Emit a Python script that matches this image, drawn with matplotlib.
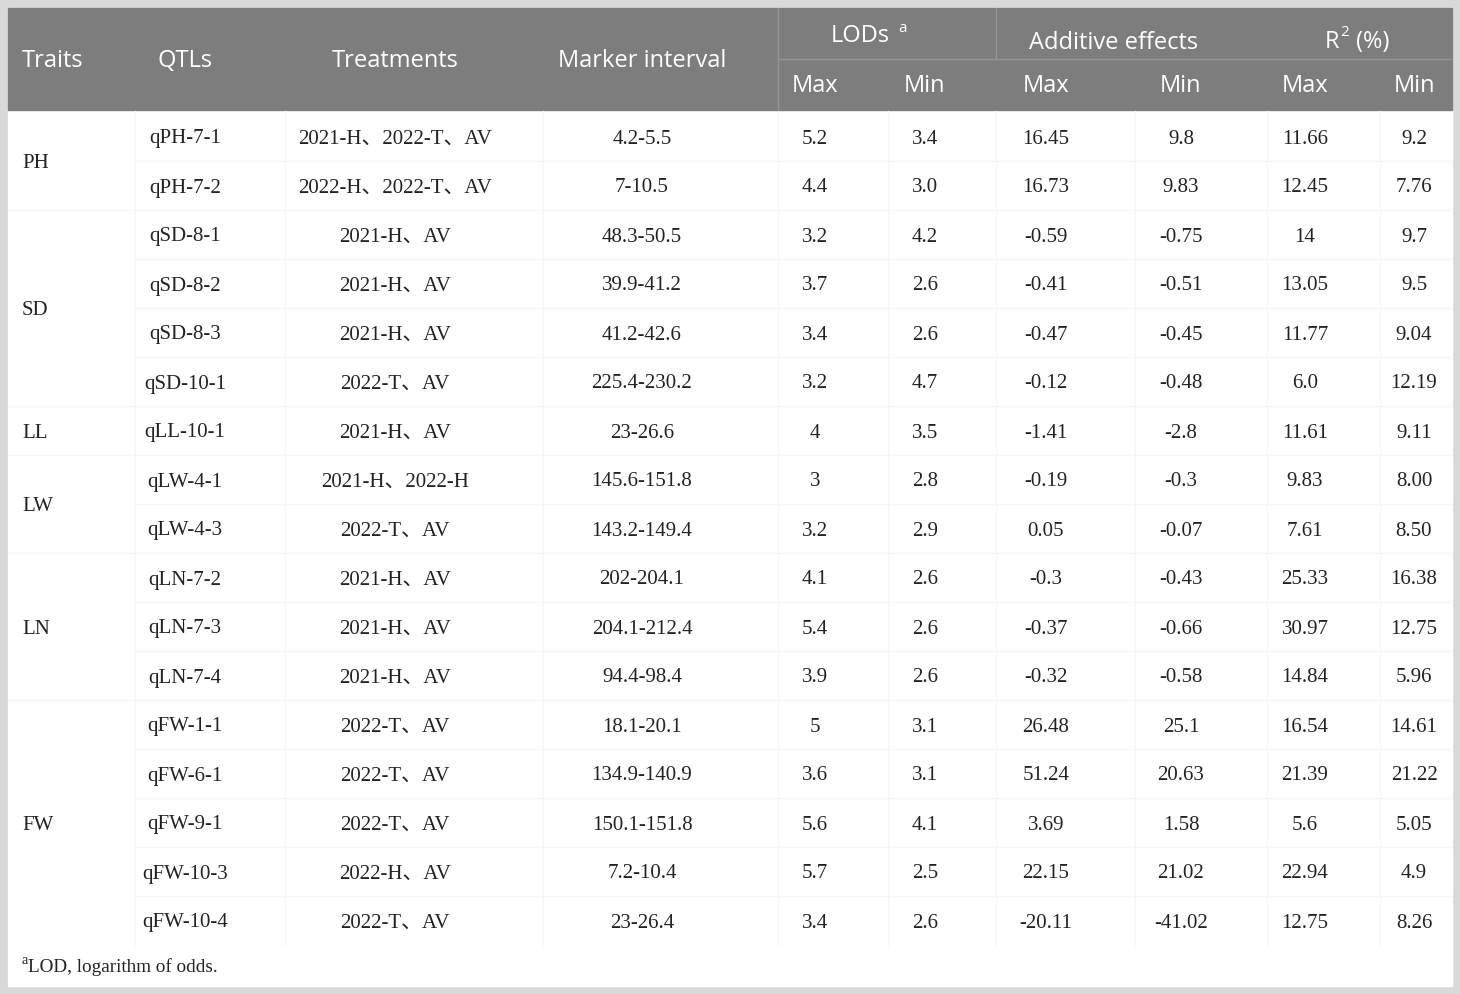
import matplotlib
matplotlib.use("Agg")
import matplotlib.pyplot as plt

# Data
traits = ["PH", "SD", "LL", "LW", "LN", "FW"]
trait_rows = [2, 4, 1, 2, 3, 5]

qtls = ["qPH-7-1", "qPH-7-2", "qSD-8-1", "qSD-8-2", "qSD-8-3", "qSD-10-1",
        "qLL-10-1", "qLW-4-1", "qLW-4-3", "qLN-7-2", "qLN-7-3", "qLN-7-4",
        "qFW-1-1", "qFW-6-1", "qFW-9-1", "qFW-10-3", "qFW-10-4"]
treatments = ["2021-H、2022-T、AV", "2022-H、2022-T、AV", "2021-H、AV", "2021-H、AV",
              "2021-H、AV", "2022-T、AV", "2021-H、AV", "2021-H、2022-H", "2022-T、AV",
              "2021-H、AV", "2021-H、AV", "2021-H、AV", "2022-T、AV", "2022-T、AV",
              "2022-T、AV", "2022-H、AV", "2022-T、AV"]
marker_interval = ["4.2-5.5", "7-10.5", "48.3-50.5", "39.9-41.2", "41.2-42.6", "225.4-230.2",
                   "23-26.6", "145.6-151.8", "143.2-149.4", "202-204.1", "204.1-212.4",
                   "94.4-98.4", "18.1-20.1", "134.9-140.9", "150.1-151.8", "7.2-10.4", "23-26.4"]
lod_max = ["5.2", "4.4", "3.2", "3.7", "3.4", "3.2", "4", "3", "3.2", "4.1", "5.4", "3.9",
           "5", "3.6", "5.6", "5.7", "3.4"]
lod_min = ["3.4", "3.0", "4.2", "2.6", "2.6", "4.7", "3.5", "2.8", "2.9", "2.6", "2.6", "2.6",
           "3.1", "3.1", "4.1", "2.5", "2.6"]
add_max = ["16.45", "16.73", "-0.59", "-0.41", "-0.47", "-0.12", "-1.41", "-0.19", "0.05",
           "-0.3", "-0.37", "-0.32", "26.48", "51.24", "3.69", "22.15", "-20.11"]
add_min = ["9.8", "9.83", "-0.75", "-0.51", "-0.45", "-0.48", "-2.8", "-0.3", "-0.07",
           "-0.43", "-0.66", "-0.58", "25.1", "20.63", "1.58", "21.02", "-41.02"]
r2_max = ["11.66", "12.45", "14", "13.05", "11.77", "6.0", "11.61", "9.83", "7.61",
          "25.33", "30.97", "14.84", "16.54", "21.39", "5.6", "22.94", "12.75"]
r2_min = ["9.2", "7.76", "9.7", "9.5", "9.04", "12.19", "9.11", "8.00", "8.50",
          "16.38", "12.75", "5.96", "14.61", "21.22", "5.05", "4.9", "8.26"]

# Layout (pixels)
W, H = 1460, 994
panel = (8, 8, 1452, 986)
header_bottom = 110
header_split = 59
row0, row_h = 136, 49
col_x = [185, 395, 642, 815, 925, 1046, 1181, 1305, 1414]
col_lines = [135, 285, 543, 778, 888, 996, 1135, 1267, 1380]
header_bg = "#7d7d7d"
header_line = "#959595"
grid_c = "#f6f6f6"
text_c = "#222222"

sans = ["Open Sans", "DejaVu Sans"]
serif = ["Liberation Serif", "Noto Sans CJK SC", "DejaVu Serif"]

fig = plt.figure(figsize=(W / 100, H / 100), dpi=100)
fig.patch.set_facecolor("#d9d9d9")
ax = fig.add_axes([0, 0, 1, 1])
ax.set_xlim(0, W)
ax.set_ylim(H, 0)
ax.axis("off")

x0, y0, x1, y1 = panel
ax.add_patch(plt.Rectangle((x0, y0), x1 - x0, y1 - y0, color="white", zorder=0))
ax.add_patch(plt.Rectangle((x0, y0), x1 - x0, header_bottom - y0, color=header_bg, zorder=1))

# header lines
ax.plot([778, 778], [y0, header_bottom], color=header_line, lw=1, zorder=2)
ax.plot([996, 996], [y0, header_split], color=header_line, lw=1, zorder=2)
ax.plot([778, x1], [header_split, header_split], color=header_line, lw=1, zorder=2)

# header text
hs = 17
hy = 61
ax.text(22, hy, "Traits", color="white", fontsize=hs, family=sans, ha="left", va="center")
for x, t in zip(col_x[:3], ["QTLs", "Treatments", "Marker interval"]):
    ax.text(x, hy, t, color="white", fontsize=hs, family=sans, ha="center", va="center")
ax.text(890, 36, "LODs", color="white", fontsize=hs, family=sans, ha="right", va="center")
ax.text(898, 28, "a", color="white", fontsize=11, family=sans, ha="left", va="center")
ax.text(1114, 43, "Additive effects", color="white", fontsize=hs, family=sans, ha="center", va="center")
ax.text(1339, 42, "R", color="white", fontsize=hs, family=sans, ha="right", va="center")
ax.text(1340, 33, "2", color="white", fontsize=11, family=sans, ha="left", va="center")
ax.text(1356, 42, "(%)", color="white", fontsize=hs, family=sans, ha="left", va="center")
for x, t in zip(col_x[3:], ["Max", "Min"] * 3):
    ax.text(x, 86, t, color="white", fontsize=hs, family=sans, ha="center", va="center")

# body grid
n = len(qtls)
body_top = header_bottom + 1
body_bot = row0 + (n - 0.5) * row_h
for cx in col_lines:
    ax.plot([cx, cx], [body_top, body_bot], color=grid_c, lw=1, zorder=1)
group_end = set()
k = 0
for cnt in trait_rows:
    k += cnt
    group_end.add(k)
for i in range(1, n):
    yb = row0 + (i - 0.5) * row_h
    xs = x0 if i in group_end else col_lines[0]
    ax.plot([xs, x1], [yb, yb], color=grid_c, lw=1, zorder=1)

# body text
bs = 15
dy = 3
columns = [qtls, treatments, marker_interval, lod_max, lod_min, add_max, add_min, r2_max, r2_min]
for i in range(n):
    y = row0 + i * row_h + dy
    for x, col in zip(col_x, columns):
        ax.text(x, y, col[i], color=text_c, fontsize=bs, family=serif, ha="center", va="center")

start = 0
for t, cnt in zip(traits, trait_rows):
    y = row0 + (start + (cnt - 1) / 2) * row_h + dy
    ax.text(22, y, t, color=text_c, fontsize=bs, family=serif, ha="left", va="center")
    start += cnt

# footnote
ax.text(21, 960, "a", color=text_c, fontsize=10, family=serif, ha="left", va="center")
ax.text(28, 967, "LOD, logarithm of odds.", color=text_c, fontsize=13.8, family=serif,
        ha="left", va="center")

fig.savefig("out.png", dpi=100, facecolor=fig.get_facecolor())
